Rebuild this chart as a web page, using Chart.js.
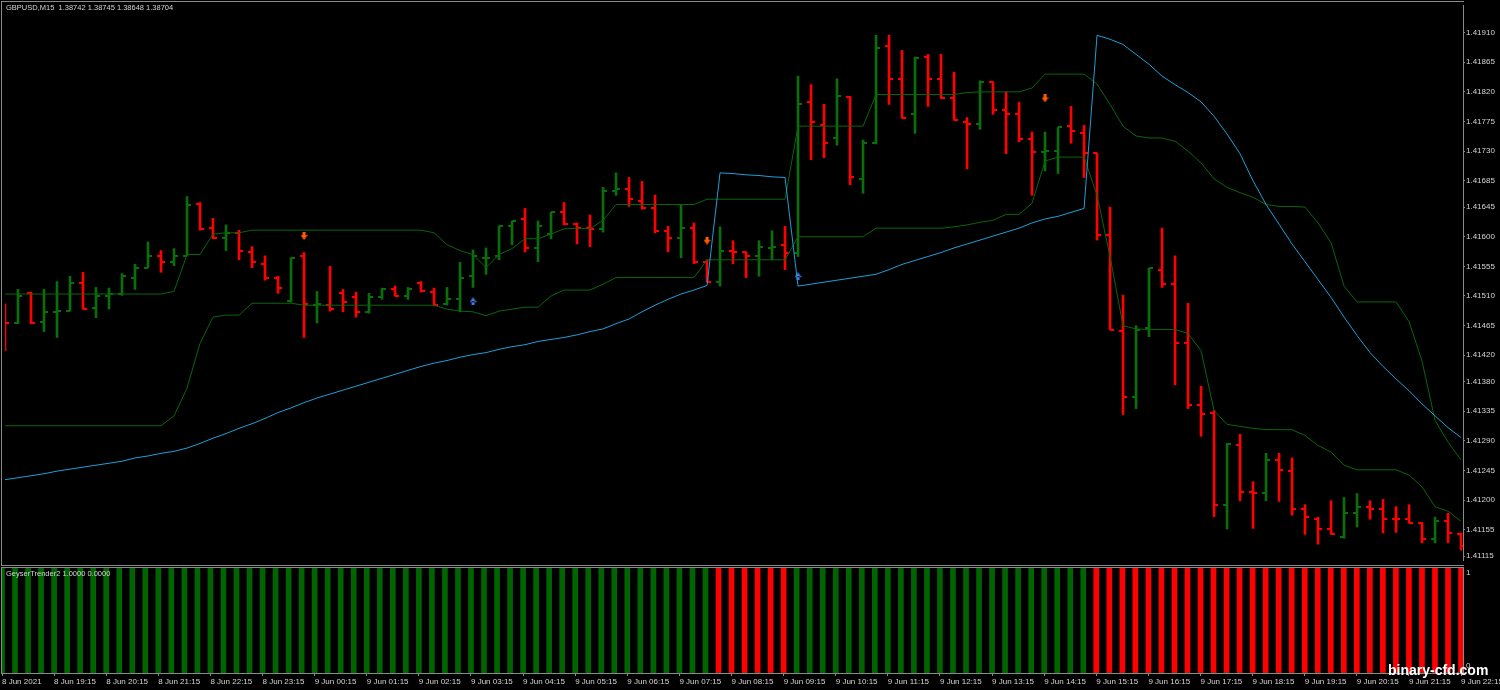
<!DOCTYPE html>
<html>
<head>
<meta charset="utf-8">
<title>GBPUSD M15 – GeyserTrender2</title>
<script src="https://cdn.jsdelivr.net/npm/chart.js@4.4.1/dist/chart.umd.min.js"></script>
<style>
  html, body { margin: 0; padding: 0; background: #000; }
  #wrap { position: relative; width: 1500px; height: 690px; overflow: hidden; background: #000; }
  #priceCanvas { position: absolute; left: 0; top: 0; }
  #geyserCanvas { position: absolute; left: 0; top: 565px; }
  .frame { position: absolute; border: 0 solid #8a8a8a; pointer-events: none; }
  #frameMain { left: 1px; top: 1px; width: 1462px; height: 563px; border-left-width: 1px; border-top-width: 1px; border-bottom-width: 1px; }
  #frameSub { left: 1px; top: 567px; width: 1462px; height: 106px; border-left-width: 1px; border-top-width: 1px; }
  .lbl { position: absolute; font: 7.5px 'Liberation Sans', Arial, sans-serif; color: #d4d4d4; line-height: 10px; white-space: pre; }
  #title { left: 6px; top: 3px; }
  #subTitle { left: 6px; top: 569px; }
  #watermark { position: absolute; left: 1388px; top: 663px; font: bold 14px 'Liberation Sans', Arial, sans-serif; color: #fff; line-height: 14px; white-space: pre; }
</style>
</head>
<body>
<div id="wrap">
  <canvas id="priceCanvas" width="1500" height="565"></canvas>
  <canvas id="geyserCanvas" width="1500" height="125"></canvas>
  <div class="frame" id="frameMain"></div>
  <div class="frame" id="frameSub"></div>
  <div class="lbl" id="title">GBPUSD,M15  1.38742 1.38745 1.38648 1.38704</div>
  <div class="lbl" id="subTitle">GeyserTrender2 1.0000 0.0000</div>
  <div id="watermark">binary-cfd.com</div>
</div>
<script>
/* ═══════════════════════════════════════════════════════════════
   GBPUSD M15 bars + GeyserTrender2 panel
   ═══════════════════════════════════════════════════════════════ */

/* ── Price bars (one per 15 min, 8 Jun 18:15 → 9 Jun 22:15) ── */
const opens = [
  1.41490,1.41469,1.41514,1.41471,1.41486,1.41487,1.41529,1.41492,1.41510,1.41513,
  1.41537,1.41553,1.41570,1.41562,1.41571,1.41649,1.41613,1.41598,1.41606,1.41577,
  1.41558,1.41537,1.41502,1.41571,1.41496,1.41496,1.41514,1.41508,1.41486,1.41508,
  1.41520,1.41510,1.41529,1.41516,1.41498,1.41505,1.41541,1.41567,1.41571,1.41616,
  1.41627,1.41583,1.41604,1.41637,1.41619,1.41613,1.41612,1.41670,1.41673,1.41655,
  1.41643,1.41609,1.41598,1.41613,1.41562,1.41532,1.41579,1.41577,1.41571,1.41583,
  1.41588,1.41576,1.41804,1.41769,1.41750,1.41813,1.41688,1.41742,1.41889,1.41840,
  1.41787,1.41873,1.41840,1.41810,1.41775,1.41771,1.41835,1.41793,1.41786,1.41748,
  1.41729,1.41730,1.41768,1.41757,1.41727,1.41603,1.41457,1.41357,1.41462,1.41550,
  1.41528,1.41438,1.41345,1.41333,1.41193,1.41283,1.41213,1.41211,1.41261,1.41244,
  1.41186,1.41172,1.41156,1.41144,1.41181,1.41189,1.41187,1.41172,1.41171,1.41165,
  1.41141,1.41168,1.41148
];
const highs = [
  1.41498,1.41520,1.41516,1.41520,1.41532,1.41540,1.41546,1.41523,1.41522,1.41544,
  1.41558,1.41592,1.41579,1.41582,1.41661,1.41652,1.41628,1.41618,1.41610,1.41585,
  1.41571,1.41540,1.41568,1.41576,1.41517,1.41555,1.41520,1.41516,1.41514,1.41522,
  1.41525,1.41523,1.41532,1.41522,1.41523,1.41561,1.41580,1.41583,1.41616,1.41624,
  1.41643,1.41624,1.41637,1.41652,1.41621,1.41633,1.41675,1.41697,1.41690,1.41684,
  1.41663,1.41616,1.41648,1.41621,1.41565,1.41615,1.41594,1.41577,1.41594,1.41609,
  1.41616,1.41844,1.41831,1.41801,1.41840,1.41813,1.41747,1.41906,1.41906,1.41883,
  1.41873,1.41877,1.41877,1.41850,1.41781,1.41837,1.41835,1.41820,1.41804,1.41759,
  1.41759,1.41766,1.41798,1.41769,1.41727,1.41645,1.41511,1.41465,1.41552,1.41613,
  1.41571,1.41499,1.41373,1.41336,1.41286,1.41300,1.41228,1.41271,1.41271,1.41264,
  1.41193,1.41174,1.41199,1.41204,1.41210,1.41199,1.41201,1.41190,1.41193,1.41166,
  1.41174,1.41180,1.41150
];
const lows = [
  1.41427,1.41468,1.41468,1.41456,1.41447,1.41487,1.41490,1.41477,1.41490,1.41511,
  1.41520,1.41553,1.41546,1.41556,1.41571,1.41610,1.41597,1.41579,1.41565,1.41553,
  1.41534,1.41514,1.41501,1.41447,1.41469,1.41487,1.41486,1.41478,1.41484,1.41505,
  1.41510,1.41505,1.41516,1.41495,1.41496,1.41486,1.41523,1.41543,1.41565,1.41588,
  1.41577,1.41562,1.41597,1.41618,1.41589,1.41585,1.41607,1.41663,1.41646,1.41642,
  1.41606,1.41577,1.41568,1.41559,1.41531,1.41525,1.41559,1.41538,1.41540,1.41565,
  1.41550,1.41570,1.41717,1.41720,1.41739,1.41679,1.41666,1.41741,1.41801,1.41780,
  1.41757,1.41798,1.41810,1.41777,1.41703,1.41763,1.41786,1.41726,1.41744,1.41663,
  1.41700,1.41696,1.41742,1.41690,1.41595,1.41459,1.41330,1.41339,1.41448,1.41523,
  1.41375,1.41339,1.41297,1.41175,1.41156,1.41199,1.41157,1.41199,1.41198,1.41177,
  1.41148,1.41133,1.41148,1.41142,1.41159,1.41171,1.41150,1.41151,1.41165,1.41135,
  1.41135,1.41135,1.41124
];
const closes = [
  1.41469,1.41510,1.41469,1.41486,1.41487,1.41529,1.41490,1.41510,1.41513,1.41540,
  1.41552,1.41570,1.41561,1.41570,1.41648,1.41612,1.41598,1.41606,1.41579,1.41561,
  1.41538,1.41522,1.41567,1.41498,1.41498,1.41490,1.41501,1.41486,1.41508,1.41520,
  1.41510,1.41520,1.41517,1.41496,1.41505,1.41537,1.41570,1.41568,1.41616,1.41624,
  1.41583,1.41616,1.41637,1.41619,1.41613,1.41612,1.41670,1.41673,1.41657,1.41643,
  1.41609,1.41598,1.41613,1.41561,1.41532,1.41579,1.41577,1.41571,1.41585,1.41585,
  1.41576,1.41802,1.41774,1.41742,1.41814,1.41690,1.41742,1.41886,1.41840,1.41781,
  1.41871,1.41840,1.41811,1.41777,1.41771,1.41835,1.41793,1.41787,1.41748,1.41729,
  1.41730,1.41766,1.41760,1.41727,1.41603,1.41459,1.41357,1.41459,1.41552,1.41528,
  1.41438,1.41345,1.41331,1.41193,1.41285,1.41213,1.41211,1.41261,1.41246,1.41186,
  1.41174,1.41156,1.41148,1.41181,1.41189,1.41187,1.41171,1.41171,1.41165,1.41141,
  1.41168,1.41150,1.41130
];

/* ── Indicator lines on the price chart ── */
const upperBand = [
  1.41513,1.41513,1.41513,1.41513,1.41513,1.41513,1.41513,1.41513,1.41513,1.41513,
  1.41513,1.41513,1.41513,1.41517,1.41573,1.41573,1.41604,1.41606,1.41606,1.41610,
  1.41610,1.41610,1.41610,1.41610,1.41610,1.41610,1.41610,1.41610,1.41610,1.41610,
  1.41610,1.41610,1.41610,1.41606,1.41588,1.41579,1.41573,1.41553,1.41573,1.41582,
  1.41597,1.41597,1.41604,1.41612,1.41613,1.41612,1.41625,1.41649,1.41649,1.41649,
  1.41649,1.41649,1.41649,1.41649,1.41657,1.41657,1.41657,1.41657,1.41657,1.41657,
  1.41657,1.41768,1.41768,1.41768,1.41768,1.41768,1.41768,1.41816,1.41816,1.41816,
  1.41816,1.41816,1.41816,1.41816,1.41819,1.41820,1.41820,1.41820,1.41820,1.41826,
  1.41847,1.41847,1.41847,1.41847,1.41832,1.41801,1.41768,1.41753,1.41750,1.41750,
  1.41745,1.41730,1.41712,1.41688,1.41675,1.41667,1.41660,1.41649,1.41646,1.41646,
  1.41645,1.41621,1.41591,1.41525,1.41501,1.41501,1.41501,1.41501,1.41471,1.41411,
  1.41321,1.41288,1.41261
];
const lowerBand = [
  1.41313,1.41313,1.41313,1.41313,1.41313,1.41313,1.41313,1.41313,1.41313,1.41313,
  1.41313,1.41313,1.41313,1.41328,1.41370,1.41438,1.41478,1.41481,1.41481,1.41499,
  1.41499,1.41499,1.41499,1.41496,1.41496,1.41496,1.41496,1.41496,1.41496,1.41496,
  1.41496,1.41496,1.41496,1.41496,1.41490,1.41487,1.41486,1.41480,1.41487,1.41490,
  1.41493,1.41493,1.41510,1.41519,1.41519,1.41519,1.41528,1.41538,1.41538,1.41538,
  1.41538,1.41538,1.41538,1.41538,1.41565,1.41565,1.41565,1.41565,1.41565,1.41565,
  1.41565,1.41600,1.41600,1.41600,1.41600,1.41600,1.41600,1.41613,1.41613,1.41613,
  1.41613,1.41613,1.41613,1.41615,1.41618,1.41622,1.41625,1.41634,1.41634,1.41651,
  1.41715,1.41721,1.41721,1.41721,1.41663,1.41570,1.41465,1.41460,1.41459,1.41459,
  1.41459,1.41453,1.41427,1.41336,1.41315,1.41312,1.41309,1.41307,1.41307,1.41307,
  1.41298,1.41283,1.41273,1.41253,1.41246,1.41246,1.41246,1.41246,1.41238,1.41220,
  1.41190,1.41183,1.41168
];
const trendLine = [
  1.41231,1.41234,1.41237,1.41240,1.41244,1.41247,1.41250,1.41253,1.41256,1.41259,
  1.41264,1.41267,1.41271,1.41274,1.41279,1.41286,1.41294,1.41301,1.41309,1.41316,
  1.41324,1.41333,1.41340,1.41348,1.41355,1.41361,1.41367,1.41373,1.41379,1.41385,
  1.41391,1.41397,1.41403,1.41408,1.41412,1.41417,1.41421,1.41424,1.41429,1.41433,
  1.41436,1.41441,1.41444,1.41447,1.41451,1.41456,1.41460,1.41468,1.41475,1.41486,
  1.41496,1.41505,1.41513,1.41519,1.41526,1.41697,1.41696,1.41694,1.41693,1.41691,
  1.41690,1.41525,1.41528,1.41531,1.41534,1.41537,1.41540,1.41543,1.41550,1.41558,
  1.41564,1.41570,1.41576,1.41583,1.41589,1.41595,1.41601,1.41607,1.41613,1.41621,
  1.41627,1.41631,1.41637,1.41643,1.41906,1.41900,1.41892,1.41877,1.41862,1.41844,
  1.41831,1.41819,1.41805,1.41783,1.41756,1.41726,1.41685,1.41649,1.41619,1.41589,
  1.41562,1.41535,1.41508,1.41478,1.41450,1.41424,1.41403,1.41384,1.41366,1.41346,
  1.41328,1.41310,1.41295
];

/* ── Signal arrows ── */
const sellBars   = [23, 54, 80];
const sellPrices = [1.41601, 1.41594, 1.41810];
const buyBars    = [36, 61];
const buyPrices  = [1.41502, 1.41540];

/* ── GeyserTrender2 histogram ── */
const geyserUp = [
  1,1,1,1,1,1,1,1,1,1, 1,1,1,1,1,1,1,1,1,1, 1,1,1,1,1,1,1,1,1,1,
  1,1,1,1,1,1,1,1,1,1, 1,1,1,1,1,1,1,1,1,1, 1,1,1,1,1,0,0,0,0,0,
  0,1,1,1,1,1,1,1,1,1, 1,1,1,1,1,1,1,1,1,1, 1,1,1,1,0,0,0,0,0,0,
  0,0,0,0,0,0,0,0,0,0, 0,0,0,0,0,0,0,0,0,0, 0,0,0
];
const geyserDown = [
  0,0,0,0,0,0,0,0,0,0, 0,0,0,0,0,0,0,0,0,0, 0,0,0,0,0,0,0,0,0,0,
  0,0,0,0,0,0,0,0,0,0, 0,0,0,0,0,0,0,0,0,0, 0,0,0,0,0,1,1,1,1,1,
  1,0,0,0,0,0,0,0,0,0, 0,0,0,0,0,0,0,0,0,0, 0,0,0,0,1,1,1,1,1,1,
  1,1,1,1,1,1,1,1,1,1, 1,1,1,1,1,1,1,1,1,1, 1,1,1
];

/* ── Axis labels ── */
const priceTicks = [
  1.41910, 1.41865, 1.41820, 1.41775, 1.41730, 1.41685, 1.41645, 1.41600, 1.41555, 1.41510,
  1.41465, 1.41420, 1.41380, 1.41335, 1.41290, 1.41245, 1.41200, 1.41155, 1.41115
];
const timeLabels = [
  '8 Jun 2021', '8 Jun 19:15', '8 Jun 20:15', '8 Jun 21:15', '8 Jun 22:15', '8 Jun 23:15',
  '9 Jun 00:15', '9 Jun 01:15', '9 Jun 02:15', '9 Jun 03:15', '9 Jun 04:15', '9 Jun 05:15',
  '9 Jun 06:15', '9 Jun 07:15', '9 Jun 08:15', '9 Jun 09:15', '9 Jun 10:15', '9 Jun 11:15',
  '9 Jun 12:15', '9 Jun 13:15', '9 Jun 14:15', '9 Jun 15:15', '9 Jun 16:15', '9 Jun 17:15',
  '9 Jun 18:15', '9 Jun 19:15', '9 Jun 20:15', '9 Jun 21:15', '9 Jun 22:15'
];
const timeTickBars = [0, 4, 8, 12, 16, 20, 24, 28, 32, 36, 40, 44, 48, 52, 56,
                      60, 64, 68, 72, 76, 80, 84, 88, 92, 96, 100, 104, 108, 112];
const panelLevels = ['1', '0'];

/* ── Look ── */
const UP_COLOR = '#0a6e0a';
const DN_COLOR = '#ff0000';
const BAND_COLOR = '#0b650b';
const TREND_COLOR = '#1f9fd8';
const AXIS_COLOR = '#8a8a8a';
const TEXT_COLOR = '#d4d4d4';
const X_MAX = 112.15;

Chart.defaults.font.family = "'Liberation Sans', Arial, sans-serif";
Chart.defaults.font.size = 8;
Chart.defaults.color = TEXT_COLOR;

/* ── Small sprites for OHLC ticks and arrows ── */
function tickSprite(color, side) {
  const c = document.createElement('canvas');
  c.width = 10; c.height = 2;
  const g = c.getContext('2d');
  g.fillStyle = color;
  g.fillRect(side === 'left' ? 1 : 5, 0, 4, 2);
  return c;
}
function arrowSprite(color, dir) {
  const c = document.createElement('canvas');
  c.width = 7; c.height = 8;
  const g = c.getContext('2d');
  g.fillStyle = color;
  g.beginPath();
  if (dir === 'down') {
    g.rect(2, 0, 3, 4);
    g.moveTo(0, 3); g.lineTo(7, 3); g.lineTo(3.5, 8);
  } else {
    g.rect(2, 4, 3, 4);
    g.moveTo(0, 5); g.lineTo(7, 5); g.lineTo(3.5, 0);
  }
  g.fill();
  return c;
}
const sprites = {
  upL: tickSprite(UP_COLOR, 'left'),  upR: tickSprite(UP_COLOR, 'right'),
  dnL: tickSprite(DN_COLOR, 'left'),  dnR: tickSprite(DN_COLOR, 'right'),
  sell: arrowSprite('#ff5a00', 'down'),
  buy: arrowSprite('#4a78e8', 'up')
};
const isUp = i => closes[i] >= opens[i];
const xy = arr => arr.map((v, i) => ({ x: i, y: v }));

/* ── Price chart ── */
new Chart(document.getElementById('priceCanvas'), {
  type: 'scatter',
  data: {
    datasets: [
      { type: 'line', data: xy(trendLine), borderColor: TREND_COLOR, borderWidth: 1,
        pointRadius: 0, tension: 0, order: 0 },
      { type: 'line', data: xy(upperBand), borderColor: BAND_COLOR, borderWidth: 1,
        pointRadius: 0, tension: 0, order: 1 },
      { type: 'line', data: xy(lowerBand), borderColor: BAND_COLOR, borderWidth: 1,
        pointRadius: 0, tension: 0, order: 1 },
      { data: sellBars.map((b, k) => ({ x: b, y: sellPrices[k] })),
        pointStyle: sprites.sell, pointRadius: 4, order: 0 },
      { data: buyBars.map((b, k) => ({ x: b, y: buyPrices[k] })),
        pointStyle: sprites.buy, pointRadius: 4, order: 0 },
      { data: xy(opens), pointRadius: 3,
        pointStyle: ctx => isUp(ctx.dataIndex) ? sprites.upL : sprites.dnL, order: 2 },
      { data: xy(closes), pointRadius: 3,
        pointStyle: ctx => isUp(ctx.dataIndex) ? sprites.upR : sprites.dnR, order: 2 },
      { type: 'bar', data: highs.map((h, i) => ({ x: i, y: [lows[i], h] })),
        backgroundColor: ctx => isUp(ctx.dataIndex) ? UP_COLOR : DN_COLOR,
        barThickness: 2, order: 3 }
    ]
  },
  options: {
    responsive: false,
    animation: false,
    events: [],
    layout: { padding: { left: 2, top: 2, right: 0, bottom: 1 } },
    plugins: { legend: { display: false }, tooltip: { enabled: false } },
    scales: {
      x: { type: 'linear', min: 0, max: X_MAX, offset: false, grid: { offset: false }, display: false },
      y: {
        type: 'linear', position: 'right', min: 1.41109, max: 1.41952,
        afterBuildTicks: s => { s.ticks = priceTicks.map(v => ({ value: v })); },
        afterFit: s => { s.width = 37; s.paddingTop = 0; s.paddingBottom = 0; },
        grid: { drawOnChartArea: false, tickLength: 2, color: AXIS_COLOR },
        border: { color: AXIS_COLOR },
        ticks: { autoSkip: false, padding: 1, color: TEXT_COLOR, callback: v => v.toFixed(5) }
      }
    }
  }
});

/* ── GeyserTrender2 panel ── */
new Chart(document.getElementById('geyserCanvas'), {
  type: 'bar',
  data: {
    datasets: [
      { data: xy(geyserUp), backgroundColor: '#006400', barThickness: 5, stack: 'geyser' },
      { data: xy(geyserDown), backgroundColor: '#ff0000', barThickness: 5, stack: 'geyser' }
    ]
  },
  options: {
    responsive: false,
    animation: false,
    events: [],
    layout: { padding: { left: 2, top: 2, right: 0, bottom: 0 } },
    plugins: { legend: { display: false }, tooltip: { enabled: false } },
    scales: {
      x: {
        type: 'linear', min: 0, max: X_MAX, offset: false,
        afterBuildTicks: s => { s.ticks = timeTickBars.map(v => ({ value: v })); },
        afterFit: s => { s.height = 17; s.paddingLeft = 0; s.paddingRight = 0; },
        grid: { offset: false, drawOnChartArea: false, tickLength: 3, color: AXIS_COLOR },
        border: { color: AXIS_COLOR },
        ticks: { align: 'start', autoSkip: false, maxRotation: 0, padding: 1,
                 color: TEXT_COLOR, callback: (v, i) => timeLabels[i] }
      },
      y: {
        type: 'linear', position: 'right', min: 0, max: 1,
        // labels sit just inside the panel, as in the terminal
        afterBuildTicks: s => { s.ticks = [{ value: 0.943 }, { value: 0.066 }]; },
        afterFit: s => { s.width = 37; s.paddingTop = 0; s.paddingBottom = 0; },
        grid: { drawOnChartArea: false, drawTicks: false },
        border: { color: AXIS_COLOR },
        ticks: { autoSkip: false, padding: 3, color: TEXT_COLOR, callback: (v, i) => panelLevels[i] }
      }
    }
  }
});
</script>
</body>
</html>
